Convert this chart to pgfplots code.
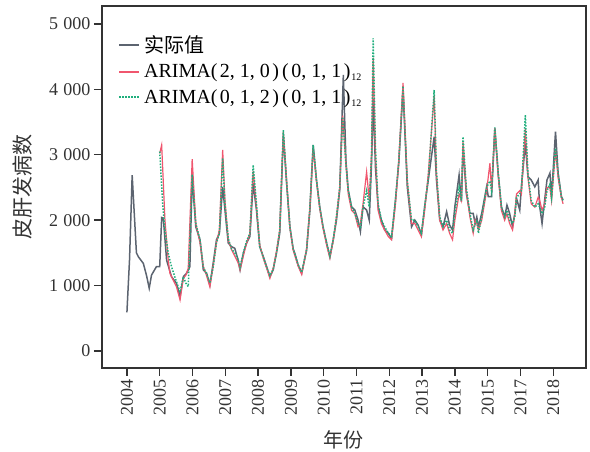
\documentclass[border=0pt]{standalone}
\usepackage{pgfplots}
\pgfplotsset{compat=1.18}
\usepackage{fontspec}
\setmainfont{Liberation Serif}
\newfontfamily\cjk{Noto Sans CJK SC}
\definecolor{actc}{HTML}{5C6470}
\definecolor{redc}{HTML}{F0566E}
\definecolor{grnc}{HTML}{1FAE7C}
\definecolor{axc}{HTML}{333333}
\newcommand{\ck}{\kern5pt}
\newcommand{\pk}{\kern2.5pt}
\newcommand{\sub}{\kern1pt\raisebox{-3pt}{\fontsize{10}{10}\selectfont 12}}
\begin{document}
\begin{tikzpicture}
\useasboundingbox (-102pt,-84pt) rectangle (488pt,368pt);
\begin{axis}[
  at={(0pt,0pt)}, anchor=south west,
  scale only axis, width=484pt, height=362pt,
  xmin=-0.76, xmax=14.0, ymin=-260, ymax=5275,
  axis line style={axc, line width=1.6pt},
  tick align=outside, tick pos=left, major tick length=8pt,
  every tick/.style={axc, line width=1.4pt},
  xtick={0,1,2,3,4,5,6,7,8,9,10,11,12,13},
  xticklabels={2004,2005,2006,2007,2008,2009,2010,2011,2012,2013,2014,2015,2017,2018},
  xticklabel style={rotate=90, anchor=east, font=\fontsize{18}{18}\selectfont, text=axc},
  ytick={0,1000,2000,3000,4000,5000},
  yticklabels={0,1\hspace{0.3em}000,2\hspace{0.3em}000,3\hspace{0.3em}000,4\hspace{0.3em}000,5\hspace{0.3em}000},
  yticklabel style={font=\fontsize{18}{18}\selectfont, text=axc},
  xlabel={\cjk 年份},
  xlabel style={at={(axis description cs:0.5,-0.199)}, anchor=center, font=\fontsize{20}{20}\selectfont, text=axc},
  ylabel={\cjk 皮肝发病数},
  ylabel style={at={(axis description cs:-0.165,0.5)}, anchor=center, rotate=0, font=\fontsize{21}{21}\selectfont, text=axc},
  legend style={at={(axis description cs:0.033,0.93)}, anchor=north west, draw=none, fill=none,
    font=\fontsize{20}{23}\selectfont, row sep=6pt, inner xsep=0pt,
    nodes={inner xsep=4pt}},
  legend cell align=left,
  legend image code/.code={\draw[#1] (0pt,0pt) -- (20pt,0pt);},
]
\addlegendimage{actc, line width=1.5pt}
\addlegendentry{\cjk 实际值}
\addlegendimage{draw=redc, line width=2pt}
\addlegendentry{ARIMA(\pk2,\ck1,\ck0\pk)\kern3pt(\pk0,\ck1,\ck1\pk)\sub}
\addlegendimage{draw=grnc, line width=1.5pt, dash pattern=on 1.5pt off 1.5pt}
\addlegendentry{ARIMA(\pk0,\ck1,\ck2\pk)\kern3pt(\pk0,\ck1,\ck1\pk)\sub}
\addplot[actc, line width=1.5pt, forget plot] table {
t v
0.00 590
0.08 1400
0.16 2690
0.29 1500
0.35 1440
0.50 1340
0.60 1150
0.68 960
0.75 1160
0.90 1290
1.00 1290
1.06 2040
1.11 2030
1.21 1390
1.36 1135
1.51 1035
1.62 830
1.72 1135
1.82 1190
1.92 1290
1.99 2665
2.10 1900
2.23 1697
2.33 1240
2.43 1190
2.53 1010
2.63 1340
2.73 1697
2.82 1800
2.89 2310
2.92 2510
2.99 2155
3.09 1650
3.19 1595
3.29 1570
3.39 1390
3.45 1240
3.55 1495
3.65 1650
3.75 1750
3.85 2565
3.95 2155
4.05 1595
4.16 1440
4.26 1290
4.36 1135
4.46 1240
4.56 1495
4.66 1800
4.77 3300
4.87 2565
4.97 1900
5.07 1560
5.12 1495
5.22 1315
5.33 1190
5.48 1545
5.58 2155
5.68 3150
5.78 2615
5.88 2205
5.98 1900
6.09 1650
6.19 1440
6.29 1697
6.39 2000
6.49 2460
6.60 4220
6.68 2900
6.75 2460
6.85 2205
6.95 2155
7.05 2000
7.12 1825
7.20 2205
7.31 2155
7.39 2000
7.46 2870
7.51 3850
7.58 2800
7.66 2205
7.76 2000
7.86 1850
7.97 1800
8.07 1720
8.19 2310
8.29 2870
8.42 4000
8.55 2510
8.68 1900
8.78 2000
8.88 1925
8.98 1775
9.08 2205
9.19 2615
9.37 3275
9.44 2615
9.54 2000
9.64 1900
9.75 2130
9.84 1925
9.93 1850
10.00 2205
10.13 2690
10.20 2280
10.25 3100
10.35 2410
10.46 2105
10.56 2105
10.62 1950
10.67 2050
10.72 1900
10.82 2105
10.97 2510
11.02 2360
11.12 2360
11.22 3405
11.32 2720
11.42 2205
11.52 2050
11.59 2230
11.67 2105
11.76 1900
11.83 2105
11.88 2335
11.98 2155
12.03 2510
12.15 3175
12.23 2665
12.33 2615
12.44 2510
12.54 2615
12.59 2205
12.66 1950
12.74 2310
12.81 2615
12.90 2720
12.95 2360
13.07 3355
13.15 2720
13.25 2360
13.30 2310
};
\addplot[redc, line width=1.2pt, forget plot] table {
t v
1.00 3020
1.06 3150
1.16 2000
1.26 1390
1.31 1190
1.41 1085
1.51 985
1.62 780
1.72 1110
1.80 1160
1.87 1265
1.99 2935
2.10 1950
2.23 1650
2.33 1290
2.43 1150
2.53 980
2.63 1300
2.73 1650
2.82 1850
2.92 3075
2.99 2300
3.09 1700
3.19 1550
3.29 1450
3.39 1350
3.45 1240
3.55 1450
3.65 1650
3.75 1800
3.85 2750
3.95 2200
4.05 1620
4.16 1420
4.26 1270
4.36 1110
4.46 1260
4.56 1520
4.66 1850
4.77 3350
4.87 2600
4.97 1880
5.07 1540
5.22 1300
5.33 1170
5.48 1560
5.58 2180
5.68 3100
5.78 2600
5.88 2180
5.98 1880
6.09 1620
6.19 1420
6.29 1680
6.39 2050
6.49 2500
6.58 3600
6.68 2850
6.75 2400
6.85 2150
6.95 2100
7.05 1900
7.12 1950
7.20 2250
7.31 2740
7.39 2300
7.46 3000
7.51 4480
7.58 3000
7.66 2150
7.76 1950
7.86 1850
7.97 1750
8.07 1700
8.19 2250
8.29 2900
8.42 4100
8.55 2600
8.68 1950
8.78 1950
8.88 1850
8.98 1750
9.08 2150
9.19 2700
9.37 3900
9.44 2700
9.54 2000
9.64 1850
9.75 1950
9.84 1800
9.93 1700
10.00 2000
10.13 2400
10.20 2300
10.25 3200
10.35 2450
10.46 2050
10.56 1800
10.62 2000
10.67 1950
10.72 1850
10.82 2000
10.97 2450
11.07 2870
11.12 2450
11.22 3400
11.32 2700
11.42 2150
11.52 2000
11.59 2100
11.67 1950
11.76 1850
11.83 2100
11.88 2400
11.98 2450
12.03 2400
12.15 3400
12.23 2650
12.33 2250
12.44 2200
12.54 2350
12.59 2300
12.66 2150
12.74 2250
12.81 2500
12.90 2500
12.95 2300
13.07 3075
13.15 2650
13.25 2350
13.30 2250
};
\addplot[grnc, line width=1.5pt, dash pattern=on 1.5pt off 1.5pt, forget plot] table {
t v
1.00 3050
1.09 2260
1.16 1850
1.26 1495
1.36 1290
1.46 1135
1.62 900
1.72 1135
1.80 1035
1.87 985
1.99 2700
2.10 1950
2.23 1700
2.33 1280
2.43 1180
2.53 1040
2.63 1280
2.73 1650
2.82 1800
2.92 2950
2.99 2250
3.09 1720
3.19 1560
3.29 1500
3.39 1400
3.45 1280
3.55 1500
3.65 1680
3.75 1800
3.85 2845
3.95 2250
4.05 1600
4.16 1430
4.26 1280
4.36 1150
4.46 1250
4.56 1500
4.66 1850
4.77 3380
4.87 2580
4.97 1900
5.07 1560
5.22 1320
5.33 1200
5.48 1550
5.58 2200
5.68 3150
5.78 2620
5.88 2200
5.98 1900
6.09 1650
6.19 1450
6.29 1700
6.39 2050
6.49 2500
6.58 3580
6.68 2850
6.75 2450
6.85 2200
6.95 2100
7.05 1950
7.12 1900
7.20 2200
7.31 2450
7.39 2200
7.46 3000
7.51 4780
7.58 3100
7.66 2250
7.76 2000
7.86 1900
7.97 1800
8.07 1750
8.19 2300
8.29 2900
8.42 4050
8.55 2600
8.68 2000
8.78 2000
8.88 1900
8.98 1800
9.08 2200
9.19 2650
9.37 3990
9.44 2750
9.54 2050
9.64 1900
9.75 2000
9.84 1850
9.93 1800
10.00 2100
10.13 2500
10.20 2300
10.25 3275
10.35 2500
10.46 2100
10.56 1850
10.62 1950
10.67 2000
10.72 1800
10.82 2050
10.97 2500
11.07 2600
11.12 2450
11.22 3420
11.32 2750
11.42 2200
11.52 2050
11.59 2150
11.67 2000
11.76 1950
11.83 2050
11.88 2350
11.98 2400
12.03 2450
12.15 3610
12.23 2700
12.33 2300
12.44 2200
12.54 2250
12.59 2200
12.66 2100
12.74 2200
12.81 2450
12.90 2550
12.95 2350
13.07 3100
13.15 2700
13.25 2350
13.30 2300
};
\end{axis}
\end{tikzpicture}
\end{document}
